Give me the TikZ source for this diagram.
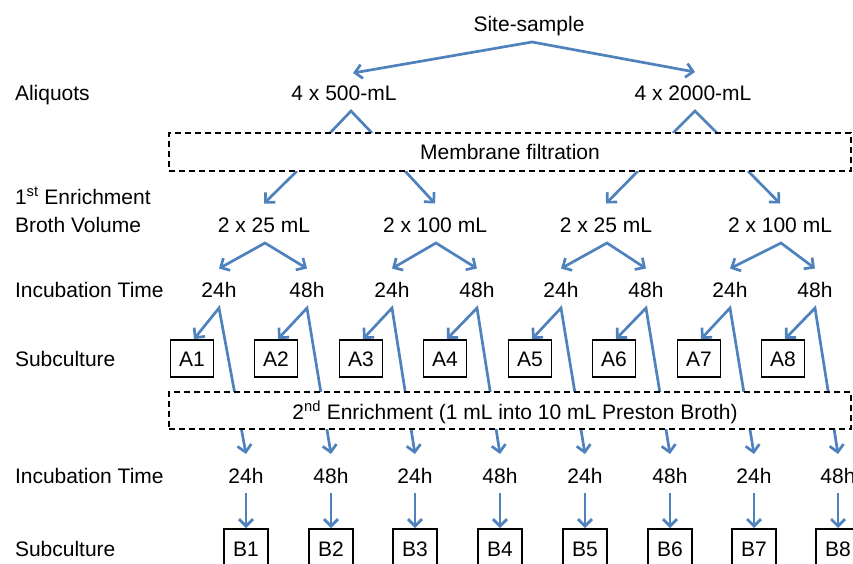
\documentclass[tikz,border=0pt]{standalone}
\usepackage{fontspec}
\setmainfont{Liberation Sans}
\usetikzlibrary{arrows.meta}
\definecolor{flowblue}{RGB}{79,129,189}
\pgfdeclarelayer{bg}
\pgfsetlayers{bg,main}
\begin{document}
\begin{tikzpicture}[x=1pt,y=-1pt,
  lbl/.style={inner sep=0pt, outer sep=0pt, text height=15pt, text depth=0pt, font=\fontsize{21}{25}\selectfont},
  side/.style={lbl, anchor=west},
  flow/.style={draw=flowblue, line width=2.7pt, line join=miter},
  arr/.style={flow, -{Straight Barb[length=7pt,width=14pt]}},
  arr2/.style={flow, {Straight Barb[length=7pt,width=14pt]}-{Straight Barb[length=7pt,width=14pt]}},
  dbox/.style={draw=black, dash pattern=on 6pt off 4pt, line width=1.2pt, fill=white, inner sep=0pt, outer sep=0pt},
  abox/.style={lbl, draw=black, line width=1.2pt, minimum width=43pt, minimum height=37pt},
  bbox/.style={lbl, draw=black, line width=1.2pt, minimum width=44pt, minimum height=40pt}
]
\useasboundingbox (0,0) rectangle (853,563);

% left labels
\node[side] (lAliq)  at (15,93)  {Aliquots};
\node[side] (lEnr)   at (15,197) {1\textsuperscript{st} Enrichment};
\node[side] (lBroth) at (15,225) {Broth Volume};
\node[side] (lInc1)  at (15,290) {Incubation Time};
\node[side] (lSub1)  at (15,359) {Subculture};
\node[side] (lInc2)  at (15,476) {Incubation Time};
\node[side] (lSub2)  at (15,549) {Subculture};

% top
\node[lbl] (site)  at (529,24) {Site-sample};
\node[lbl] (v500)  at (344,93) {4 x 500-mL};
\node[lbl] (v2000) at (693,93) {4 x 2000-mL};

% dashed boxes
\node[dbox, minimum width=682pt, minimum height=38pt] (mf) at (510,152) {};
\node[lbl] (mftext) at (510,152) {Membrane filtration};
\node[dbox, minimum width=682pt, minimum height=37pt] (se) at (510,410.5) {};
\node[lbl] (setext) at (515,412) {2\textsuperscript{nd} Enrichment (1 mL into 10 mL Preston Broth)};

% broth volumes
\foreach \j/\v/\x in {1/2 x 25 mL/264, 2/2 x 100 mL/435, 3/2 x 25 mL/606, 4/2 x 100 mL/780}{
  \node[lbl] (v\j) at (\x,225) {\v};
}

% columns
\foreach \i/\t/\a/\b/\h in {1/219/192/246/24h, 2/307/276/331/48h, 3/392/361/415/24h, 4/477/445/500/48h,
                            5/561/530/585/24h, 6/646/614/670/48h, 7/730/699/754/24h, 8/815/783/838/48h}{
  \node[lbl]  (t\i) at (\t,290)   {\h};
  \node[abox] (A\i) at (\a,358.5) {A\i};
  \node[lbl]  (u\i) at (\b,476)   {\h};
  \node[bbox] (B\i) at (\b,549)   {B\i};
}

\begin{pgfonlayer}{bg}
  % site-sample to aliquots
  \draw[arr2] ([xshift=9pt,yshift=20pt]v500.center) -- ([xshift=3pt,yshift=-18pt]site.center) -- ([xshift=2pt,yshift=21pt]v2000.center);
  % aliquots into membrane filtration
  \draw[flow] ([xshift=161pt]mf.north west) -- ([xshift=7pt,yshift=-18pt]v500.center) -- ([xshift=203pt]mf.north west);
  \draw[flow] ([xshift=504pt]mf.north west) -- ([xshift=2pt,yshift=-18pt]v2000.center) -- ([xshift=548pt]mf.north west);
  % membrane filtration to broth volumes
  \draw[arr] ([xshift=128pt]mf.south west) -- ([yshift=14pt]v1.north);
  \draw[arr] ([xshift=236pt]mf.south west) -- ([yshift=14pt]v2.north);
  \draw[arr] ([xshift=469pt]mf.south west) -- ([yshift=14pt]v3.north);
  \draw[arr] ([xshift=579pt]mf.south west) -- ([yshift=14pt]v4.north);
  % broth volumes to incubation times
  \foreach \j/\l/\r in {1/1/2, 2/3/4, 3/5/6, 4/7/8}{
    \draw[arr2] ([yshift=14pt]t\l.north) -- ([xshift=1pt,yshift=-18pt]v\j.center) -- ([yshift=14pt]t\r.north);
  }
  % incubation to subculture and 2nd enrichment
  \foreach \i in {1,...,8}{
    \draw[arr2] ([xshift=2pt,yshift=1pt]A\i.north) -- ([yshift=-18pt]t\i.center) -- ([yshift=22pt]u\i.center);
    \draw[arr] ([yshift=-17pt]u\i.center) -- ([yshift=1pt]B\i.north);
  }
\end{pgfonlayer}
\end{tikzpicture}
\end{document}
